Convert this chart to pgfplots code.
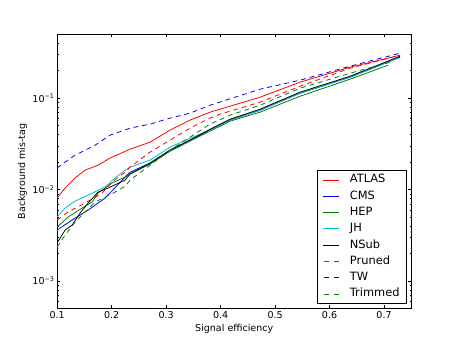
\documentclass[border=0pt]{standalone}
\usepackage{pgfplots}
\pgfplotsset{compat=1.18}
\usepackage{fontspec}
\setmainfont{DejaVu Sans}
\definecolor{mplgreen}{rgb}{0,0.5,0}
\definecolor{mplcyan}{rgb}{0,0.75,0.75}
\definecolor{mplblack}{rgb}{0.02,0.02,0.02}
\tikzset{mpldash/.style={dash pattern=on 6pt off 5pt}}
\pgfplotsset{
  mplsolid/.style={legend image code/.code={
    \draw[line width=1pt, draw=#1] (0pt,0pt) -- (21pt,0pt);}},
  mpldashed/.style={legend image code/.code={
    \draw[line width=1pt, draw=#1] (0pt,0pt) -- (7pt,0pt);
    \draw[line width=1pt, draw=#1] (13pt,0pt) -- (20pt,0pt);}},
}

\begin{document}
\begin{tikzpicture}
\path[use as bounding box] (-72pt,-43.2pt) rectangle (504pt,388.8pt);
\begin{axis}[
    at={(0pt,0pt)}, anchor=south west,
    scale only axis, width=446.4pt, height=345.6pt,
    ymode=log,
    xmin=0.1, xmax=0.75, ymin=5e-4, ymax=0.5,
    xtick={0.1,0.2,0.3,0.4,0.5,0.6,0.7},
    xticklabels={0.1,0.2,0.3,0.4,0.5,0.6,0.7},
    ytick={0.001,0.01,0.1},
    yticklabels={10\textsuperscript{−3},10\textsuperscript{−2},10\textsuperscript{−1}},
    minor ytick={0.0005,0.0006,0.0007,0.0008,0.0009,
                 0.002,0.003,0.004,0.005,0.006,0.007,0.008,0.009,
                 0.02,0.03,0.04,0.05,0.06,0.07,0.08,0.09,
                 0.2,0.3,0.4},
    tick align=inside, tick pos=both,
    major tick length=4pt, minor tick length=2pt,
    every tick/.style={black, line width=0.5pt},
    axis line style={line width=1pt},
    tick label style={font=\fontsize{12}{14}\selectfont},
    label style={font=\fontsize{12}{14}\selectfont},
    xlabel={Signal efficiency},
    ylabel={Background mis-tag},
    legend cell align=left,
    legend style={at={(0.986,0.018)}, anchor=south east, draw=black,
        line width=1pt, fill=white, font=\fontsize{14.4}{17}\selectfont,
        inner xsep=6pt, inner ysep=3pt, row sep=3pt,
        nodes={text height=10.5pt, text depth=3pt, inner sep=2pt}},
    every axis plot/.append style={line width=1pt, no markers, line join=round, forget plot},
]
% ATLAS
\addplot[red] coordinates {
(0.1000,0.00807) (0.1147,0.0104) (0.1330,0.0134) (0.1514,0.0163) (0.1752,0.0185)
(0.1972,0.0221) (0.2339,0.0277) (0.2706,0.0330) (0.3073,0.0447) (0.3440,0.0575)
(0.3807,0.0703) (0.4725,0.1025) (0.5459,0.1496) (0.6376,0.2182) (0.7294,0.2951)};
% CMS
\addplot[blue] coordinates {
(0.1000,0.00361) (0.1275,0.00464) (0.1569,0.00597) (0.1881,0.00807) (0.2248,0.0137)
(0.2339,0.0155) (0.2706,0.0195) (0.3073,0.0270) (0.3440,0.0348) (0.3807,0.0447)
(0.4174,0.0575) (0.4725,0.0739) (0.5459,0.1134) (0.6376,0.1696) (0.7294,0.2806)};
% HEP
\addplot[mplgreen] coordinates {
(0.1000,0.00389) (0.1202,0.00501) (0.1459,0.00628) (0.1642,0.00730) (0.1752,0.00916)
(0.2009,0.0118) (0.2248,0.0137) (0.2339,0.0148) (0.2706,0.0190) (0.3073,0.0263)
(0.3440,0.0339) (0.3807,0.0436) (0.4174,0.0560) (0.4725,0.0703) (0.5459,0.1051)
(0.6376,0.1613) (0.7073,0.2294)};
% JH
\addplot[mplcyan] coordinates {
(0.1000,0.00501) (0.1147,0.00628) (0.1330,0.00748) (0.1569,0.00871) (0.1881,0.0107)
(0.2064,0.0134) (0.2248,0.0163) (0.2339,0.0176) (0.2706,0.0210) (0.3073,0.0291)
(0.3440,0.0365) (0.3807,0.0447) (0.4174,0.0575) (0.4725,0.0739) (0.5459,0.1134)
(0.6376,0.1696) (0.7257,0.2737)};
% NSub
\addplot[mplblack] coordinates {
(0.1000,0.00260) (0.1147,0.00361) (0.1275,0.00409) (0.1422,0.00553) (0.1569,0.00712)
(0.1752,0.00939) (0.1936,0.0104) (0.2248,0.0127) (0.2339,0.0148) (0.2706,0.0195)
(0.3073,0.0270) (0.3440,0.0348) (0.3807,0.0458) (0.4174,0.0589) (0.4725,0.0758)
(0.5459,0.1163) (0.6376,0.1739) (0.7294,0.2877)};
% Pruned
\addplot[red, mpldash] coordinates {
(0.1000,0.00464) (0.1202,0.00568) (0.1514,0.00712) (0.1826,0.00916) (0.2009,0.0121)
(0.2248,0.0155) (0.2339,0.0176) (0.2706,0.0257) (0.3073,0.0348) (0.3440,0.0470)
(0.3807,0.0605) (0.3991,0.0669) (0.4725,0.0904) (0.5459,0.1352) (0.6376,0.2128)
(0.7294,0.2951)};
% TW
\addplot[blue, mpldash] coordinates {
(0.1000,0.0172) (0.1147,0.0200) (0.1330,0.0238) (0.1514,0.0270) (0.1697,0.0306)
(0.1972,0.0394) (0.2339,0.0470) (0.2706,0.0520) (0.3073,0.0605) (0.3440,0.0686)
(0.3807,0.0838) (0.4725,0.1254) (0.5459,0.1573) (0.6376,0.2237) (0.7294,0.3103)};
% Trimmed
\addplot[mplgreen, mpldash] coordinates {
(0.1000,0.00235) (0.1147,0.00318) (0.1330,0.00441) (0.1514,0.00568) (0.1697,0.00730)
(0.1881,0.00828) (0.2064,0.00939) (0.2248,0.0109) (0.2339,0.0127) (0.2706,0.0185)
(0.3073,0.0270) (0.3440,0.0375) (0.3807,0.0520) (0.4174,0.0652) (0.4725,0.0838)
(0.5459,0.1286) (0.6376,0.1876) (0.7110,0.2473)};
\addlegendimage{mplsolid=red}
\addlegendimage{mplsolid=blue}
\addlegendimage{mplsolid=mplgreen}
\addlegendimage{mplsolid=mplcyan}
\addlegendimage{mplsolid=mplblack}
\addlegendimage{mplsolid=white}
\addlegendimage{mplsolid=white}
\addlegendimage{mplsolid=white}
\legend{\hspace{11pt}ATLAS, \hspace{11pt}CMS, \hspace{11pt}HEP, \hspace{11pt}JH,
        \hspace{11pt}NSub, \hspace{11pt}Pruned, \hspace{11pt}TW, \hspace{11pt}Trimmed}
\end{axis}
% second, hidden axis: coloured samples for the three dashed series
\begin{axis}[
    at={(0pt,0pt)}, anchor=south west,
    scale only axis, width=446.4pt, height=345.6pt,
    hide axis,
    xmin=0.1, xmax=0.75, ymin=0, ymax=1,
    legend cell align=left,
    legend style={at={(0.986,0.018)}, anchor=south east, draw=none, fill=none,
        font=\fontsize{14.4}{17}\selectfont,
        inner xsep=6pt, inner ysep=3pt, row sep=3pt,
        nodes={text height=10.5pt, text depth=3pt, inner sep=2pt}},
]
\addplot[draw=none, forget plot] coordinates {(0.5,0.5)};
\addlegendimage{mpldashed=red}
\addlegendimage{mpldashed=blue}
\addlegendimage{mpldashed=mplgreen}
\legend{\hspace{11pt}\phantom{Pruned}, \hspace{11pt}\phantom{TW},
        \hspace{11pt}\phantom{Trimmed}}
\end{axis}
\end{tikzpicture}
\end{document}
